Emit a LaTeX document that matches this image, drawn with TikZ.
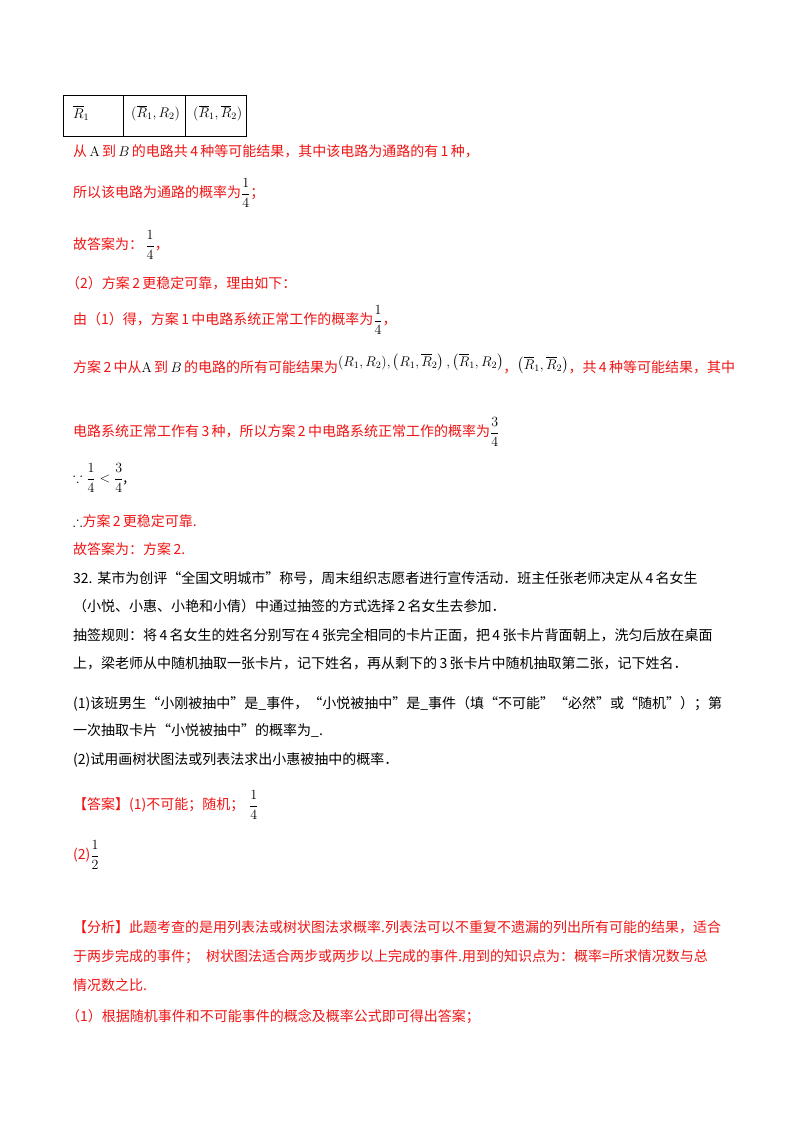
\RequirePackage{fix-cm}
\documentclass[tikz,border=0pt]{standalone}
\usepackage{amsmath,amssymb}
\usepackage{fontspec}
\newfontfamily\cjk{Noto Sans CJK SC}
\definecolor{rd}{RGB}{240,20,20}
\begin{document}
\begin{tikzpicture}[x=1pt,y=-1pt,
  txt/.style={anchor=west,inner sep=0pt,font=\cjk\fontsize{14}{16}\selectfont},
  red/.style={txt,text=rd},
  blk/.style={txt,text=black}]
\useasboundingbox[fill=white] (0,0) rectangle (800,1132);
% table
\draw[line width=0.8pt] (63,95) rectangle (246,136);
\draw[line width=0.8pt] (123,95) -- (123,136) (185,95) -- (185,136);
\node[blk] (t1) at (73,113) {$\overline{R}_1$};
\node[blk] (t2) at (131,113) {$(\overline{R}_1,R_2)$};
\node[blk] (t3) at (193,113) {$(\overline{R}_1,\overline{R}_2)$};
\node[red] (l1) at (73,151) {从\,{\color{black}$\mathrm{A}$}\,到\,{\color{black}$B$}\,的电路共\,4\,种等可能结果，其中该电路为通路的有\,1\,种，};
\node[red] (l2) at (73,193) {所以该电路为通路的概率为{\color{black}$\dfrac{1}{4}$}；};
\node[red] (l3) at (73,245) {故答案为：\,{\color{black}$\dfrac{1}{4}$}，};
\node[red] (l4) at (66,283) {（2）方案\,2\,更稳定可靠，理由如下：};
\node[red] (l5) at (73,320) {由（1）得，方案\,1\,中电路系统正常工作的概率为{\color{black}$\dfrac{1}{4}$}，};
\node[red] (l6) at (73,364) {方案\,2\,中从{\color{black}$\mathrm{A}$}\,到\,{\color{black}$B$}\,的电路的所有可能结果为{\color{black}$\raisebox{6pt}{$(R_1,R_2),\left(R_1,\overline{R}_2\right),\left(\overline{R}_1,R_2\right)$}$}，{\color{black}$\raisebox{3pt}{$\left(\overline{R}_1,\overline{R}_2\right)$}$}，共\,4\,种等可能结果，其中};
\node[red] (l7) at (73,432) {电路系统正常工作有\,3\,种，所以方案\,2\,中电路系统正常工作的概率为{\color{black}$\dfrac{3}{4}$}};
\node[blk] (l8) at (73,478) {$\because\dfrac{1}{4}<\dfrac{3}{4}$,};
\node[red] (l9) at (73,521) {{\color{black}$\therefore$}方案\,2\,更稳定可靠.};
\node[red] (l10) at (73,549) {故答案为：方案\,2.};
\node[blk] (l11) at (73,578) {32.\,\,某市为创评“全国文明城市”称号，周末组织志愿者进行宣传活动．班主任张老师决定从\,4\,名女生};
\node[blk] (l12) at (73,606) {（小悦、小惠、小艳和小倩）中通过抽签的方式选择\,2\,名女生去参加．};
\node[blk] (l13) at (73,635) {抽签规则：将\,4\,名女生的姓名分别写在\,4\,张完全相同的卡片正面，把\,4\,张卡片背面朝上，洗匀后放在桌面};
\node[blk] (l14) at (73,663) {上，梁老师从中随机抽取一张卡片，记下姓名，再从剩下的\,3\,张卡片中随机抽取第二张，记下姓名．};
\node[blk] (l15) at (73,704) {(1)该班男生“小刚被抽中”是\_事件，“小悦被抽中”是\_事件（填“不可能”“必然”或“随机”）；第};
\node[blk] (l16) at (73,731) {一次抽取卡片“小悦被抽中”的概率为\_.};
\node[blk] (l17) at (73,760) {(2)试用画树状图法或列表法求出小惠被抽中的概率．};
\node[red] (l18) at (73,805) {【答案】(1)不可能；随机；\,\,{\color{black}$\dfrac{1}{4}$}};
\node[red] (l19) at (73,855) {(2){\color{black}$\dfrac{1}{2}$}};
\node[red] (l20) at (73,927) {【分析】此题考查的是用列表法或树状图法求概率.列表法可以不重复不遗漏的列出所有可能的结果，适合};
\node[red] (l21) at (73,957) {于两步完成的事件；\,\,\,树状图法适合两步或两步以上完成的事件.用到的知识点为：概率=所求情况数与总};
\node[red] (l22) at (73,985) {情况数之比.};
\node[red] (l23) at (66,1017) {（1）根据随机事件和不可能事件的概念及概率公式即可得出答案；};
\end{tikzpicture}
\end{document}
